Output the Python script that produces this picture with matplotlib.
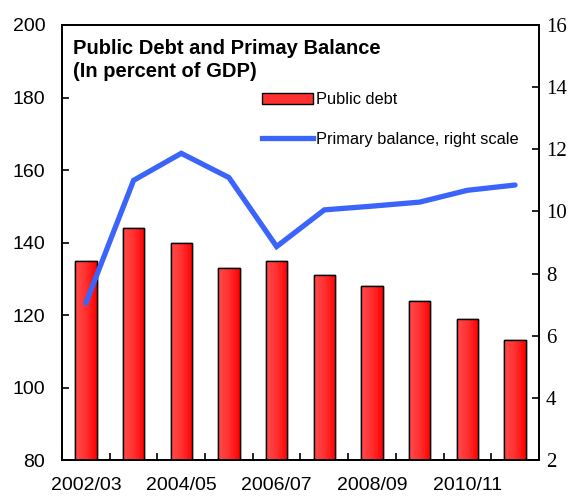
import numpy as np
import matplotlib
matplotlib.use('Agg')
import matplotlib.pyplot as plt
from matplotlib.colors import LinearSegmentedColormap
from matplotlib.lines import Line2D
from matplotlib.patches import Patch

years = ['2002/03', '2003/04', '2004/05', '2005/06', '2006/07',
         '2007/08', '2008/09', '2009/10', '2010/11', '2011/12']
public_debt = [135, 144, 140, 133, 135, 131, 128, 124, 119, 113]
primary_balance = [7.05, 11.0, 11.87, 11.09, 8.87, 10.05, 10.17, 10.3, 10.68, 10.85]
left_ticks = [80, 100, 120, 140, 160, 180, 200]
right_ticks = [2, 4, 6, 8, 10, 12, 14, 16]

plt.rcParams['font.family'] = ['Liberation Sans', 'DejaVu Sans']

fig = plt.figure(figsize=(5.77, 4.97), dpi=100)
ax = fig.add_axes([0.1075, 0.0744, 0.8265, 0.8753])
ax2 = ax.twinx()

x = np.arange(len(years))
bars = ax.bar(x, public_debt, width=0.45, color='#ff2020',
              edgecolor='black', linewidth=1.0, zorder=2)

# horizontal gradient inside each bar, lighter on the left
grad_cmap = LinearSegmentedColormap.from_list('bar', ['#ff4a4a', '#ff3030', '#ff0000'])
grad = np.linspace(0, 1, 64).reshape(1, -1)
for b in bars:
    x0, w, h = b.get_x(), b.get_width(), b.get_height()
    im = ax.imshow(grad, cmap=grad_cmap, aspect='auto',
                   extent=[x0, x0 + w, 80, h], zorder=2.5)
    im.set_clip_path(b)
    ax.bar(x0 + w / 2, h, width=w, fill=False, edgecolor='black',
           linewidth=1.0, zorder=3)

ax.set_xlim(-0.5, len(years) - 0.5)
ax.set_ylim(80, 200)
ax.set_yticks(left_ticks)
ax.tick_params(axis='y', direction='in', length=5, labelsize=14, pad=12, width=1.2)
ax.set_xticks(np.arange(len(years) + 1) - 0.5, minor=True)
ax.set_xticks(x[::2])
ax.set_xticklabels(years[::2], fontsize=14)
ax.tick_params(axis='x', which='major', length=0, pad=12)
ax.tick_params(axis='x', which='minor', direction='in', length=5, width=1.2)

ax2.plot(x, primary_balance, color='#3b64fa', linewidth=3.8, zorder=4,
         solid_capstyle='round', solid_joinstyle='miter')
ax2.set_ylim(2, 16)
ax2.set_yticks(right_ticks)
ax2.tick_params(axis='y', direction='in', length=5, labelsize=15, pad=5, width=1.2)
for lbl in ax2.get_yticklabels():
    lbl.set_family(['Liberation Serif', 'DejaVu Serif'])

for a in (ax, ax2):
    for s in a.spines.values():
        s.set_linewidth(1.3)

fig.text(0.127, 0.921, 'Public Debt and Primay Balance\n(In percent of GDP)',
         fontsize=14.5, fontweight='bold', va='top', ha='left', linespacing=1.25)

handles = [Patch(facecolor='#ff3030', edgecolor='black', linewidth=1.0),
           Line2D([0], [0], color='#3b64fa', linewidth=3.8)]
ax2.legend(handles, ['Public debt', 'Primary balance, right scale'],
           loc='upper left', bbox_to_anchor=(0.419, 0.845), frameon=False,
           fontsize=11.8, handlelength=3.1, handletextpad=0.2,
           labelspacing=1.5, borderaxespad=0, borderpad=0)

fig.savefig('out.png', dpi=100)
